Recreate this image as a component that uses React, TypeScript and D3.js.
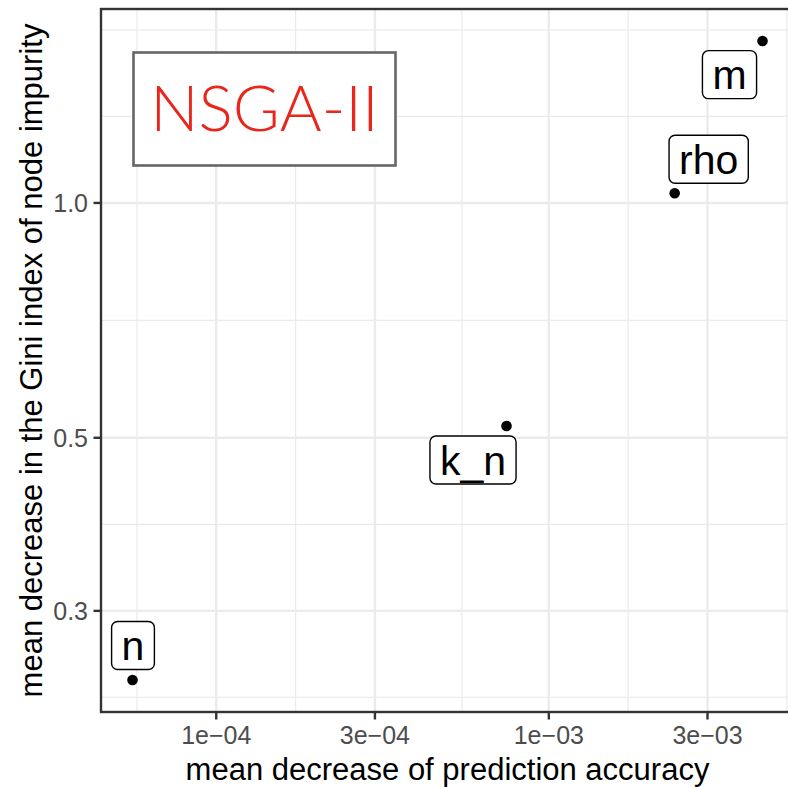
import React, { useMemo } from "react";
import * as d3 from "d3";

// ---- data ----
const variableLabels = ["n", "k_n", "rho", "m"];
const accuracyDecrease = [5.6e-5, 7.46e-4, 2.39e-3, 4.39e-3];
const giniDecrease = [0.2446, 0.5177, 1.029, 1.613];
const xTickValues = [1e-4, 3e-4, 1e-3, 3e-3];
const xTickLabels = ["1e\u221204", "3e\u221204", "1e\u221203", "3e\u221203"];
const yTickValues = [0.3, 0.5, 1.0];
const yTickLabels = ["0.3", "0.5", "1.0"];
const xTitle = "mean decrease of prediction accuracy";
const yTitle = "mean decrease in the Gini index of node impurity";
const annotationText = "NSGA-II";

// repelled label offsets (px) relative to each point
const labelNudge: Record<string, [number, number]> = {
  n: [0.5, -34.5],
  k_n: [-33.5, 34],
  rho: [34, -34],
  m: [-33, 33.7],
};

const W = 788;
const H = 787;
const panel = { left: 101, right: 794, top: 9, bottom: 712 };
const FONT = "'Liberation Sans', Arial, Helvetica, sans-serif";
const LABEL_SIZE = 41;

function expandLog(vals: number[]) {
  const l = vals.map((v) => Math.log10(v));
  const lo = d3.min(l)!;
  const hi = d3.max(l)!;
  const e = (hi - lo) * 0.05;
  return [Math.pow(10, lo - e), Math.pow(10, hi + e)];
}

function minorBreaksLog(majors: number[], domain: number[]) {
  const b = majors.map((v) => Math.log10(v));
  const lim = domain.map((v) => Math.log10(v));
  const bd = b[1] - b[0];
  if (lim[0] < b[0]) b.unshift(b[0] - bd);
  if (lim[1] > b[b.length - 1]) b.push(b[b.length - 1] + bd);
  const out: number[] = [];
  for (let i = 0; i < b.length - 1; i++) {
    out.push(b[i], (b[i] + b[i + 1]) / 2);
  }
  out.push(b[b.length - 1]);
  return out
    .filter((v) => v >= lim[0] && v <= lim[1])
    .map((v) => Math.pow(10, v));
}

function measure(text: string, font: string) {
  const c = document.createElement("canvas");
  const ctx = c.getContext("2d")!;
  ctx.font = font;
  return ctx.measureText(text).width;
}

export default function App() {
  const xDomain = expandLog(accuracyDecrease);
  const yDomain = expandLog(giniDecrease);
  const x = d3.scaleLog().domain(xDomain).range([panel.left, panel.right]);
  const y = d3.scaleLog().domain(yDomain).range([panel.bottom, panel.top]);
  const xMinor = minorBreaksLog(xTickValues, xDomain);
  const yMinor = minorBreaksLog(yTickValues, yDomain);

  const labelWidths = useMemo(
    () => variableLabels.map((t) => measure(t, `${LABEL_SIZE}px ${FONT}`)),
    []
  );

  const annBox = { x0: 133.5, x1: 395.5, y0: 52.5, y1: 165.5 };

  return (
    <svg
      width={W}
      height={H}
      style={{ position: "absolute", left: 0, top: 0, background: "#fff" }}
      fontFamily={FONT}
    >
      <rect x={0} y={0} width={W} height={H} fill="#fff" />
      <defs>
        <clipPath id="pclip">
          <rect x={panel.left} y={panel.top} width={panel.right - panel.left} height={panel.bottom - panel.top} />
        </clipPath>
      </defs>
      <g clipPath="url(#pclip)">
        {xMinor.map((v, i) => (
          <line key={"xm" + i} x1={x(v)} x2={x(v)} y1={panel.top} y2={panel.bottom} stroke="#EBEBEB" strokeWidth={1.2} />
        ))}
        {yMinor.map((v, i) => (
          <line key={"ym" + i} y1={y(v)} y2={y(v)} x1={panel.left} x2={panel.right} stroke="#EBEBEB" strokeWidth={1.2} />
        ))}
        {xTickValues.map((v, i) => (
          <line key={"xM" + i} x1={x(v)} x2={x(v)} y1={panel.top} y2={panel.bottom} stroke="#EBEBEB" strokeWidth={2.4} />
        ))}
        {yTickValues.map((v, i) => (
          <line key={"yM" + i} y1={y(v)} y2={y(v)} x1={panel.left} x2={panel.right} stroke="#EBEBEB" strokeWidth={2.4} />
        ))}

        {/* annotation box */}
        <rect
          x={annBox.x0}
          y={annBox.y0}
          width={annBox.x1 - annBox.x0}
          height={annBox.y1 - annBox.y0}
          fill="#fff"
          stroke="#666666"
          strokeWidth={2.6}
        />
        <text
          x={(annBox.x0 + annBox.x1) / 2}
          y={131}
          textAnchor="middle"
          fontFamily="Lato, 'Noto Sans', sans-serif"
          fontWeight={300}
          fontSize={64}
          fill="#E9261C"
        >
          {annotationText}
        </text>

        {/* points */}
        {variableLabels.map((l, i) => (
          <circle key={"p" + l} cx={x(accuracyDecrease[i])} cy={y(giniDecrease[i])} r={5.3} fill="#000" />
        ))}

        {/* labels */}
        {variableLabels.map((l, i) => {
          const px = x(accuracyDecrease[i]);
          const py = y(giniDecrease[i]);
          const [dx, dy] = labelNudge[l];
          const cx = px + dx;
          const cy = py + dy;
          const bw = labelWidths[i] + 20;
          const bh = 48;
          return (
            <g key={"l" + l}>
              <rect
                x={cx - bw / 2}
                y={cy - bh / 2}
                width={bw}
                height={bh}
                rx={6}
                ry={6}
                fill="#fff"
                stroke="#000"
                strokeWidth={1.4}
              />
              <text x={cx} y={cy + 14.5} textAnchor="middle" fontSize={LABEL_SIZE} fill="#000">
                {l}
              </text>
            </g>
          );
        })}
      </g>

      {/* panel border */}
      <rect
        x={panel.left}
        y={panel.top}
        width={panel.right - panel.left}
        height={panel.bottom - panel.top}
        fill="none"
        stroke="#333333"
        strokeWidth={2.4}
      />

      {/* x axis */}
      {xTickValues.map((v, i) => (
        <g key={"xt" + i}>
          <line x1={x(v)} x2={x(v)} y1={panel.bottom} y2={panel.bottom + 7.5} stroke="#333333" strokeWidth={2.4} />
          <text x={x(v)} y={743.5} textAnchor="middle" fontSize={25} fill="#4D4D4D">
            {xTickLabels[i]}
          </text>
        </g>
      ))}
      {/* y axis */}
      {yTickValues.map((v, i) => (
        <g key={"yt" + i}>
          <line x1={panel.left - 7.5} x2={panel.left} y1={y(v)} y2={y(v)} stroke="#333333" strokeWidth={2.4} />
          <text x={88} y={y(v) + 9} textAnchor="end" fontSize={25} fill="#4D4D4D">
            {yTickLabels[i]}
          </text>
        </g>
      ))}

      <text x={(panel.left + panel.right) / 2} y={780} textAnchor="middle" fontSize={31} fill="#000">
        {xTitle}
      </text>
      <text
        transform={`translate(41.5, ${(panel.top + panel.bottom) / 2}) rotate(-90)`}
        textAnchor="middle"
        fontSize={31}
        fill="#000"
      >
        {yTitle}
      </text>
    </svg>
  );
}
